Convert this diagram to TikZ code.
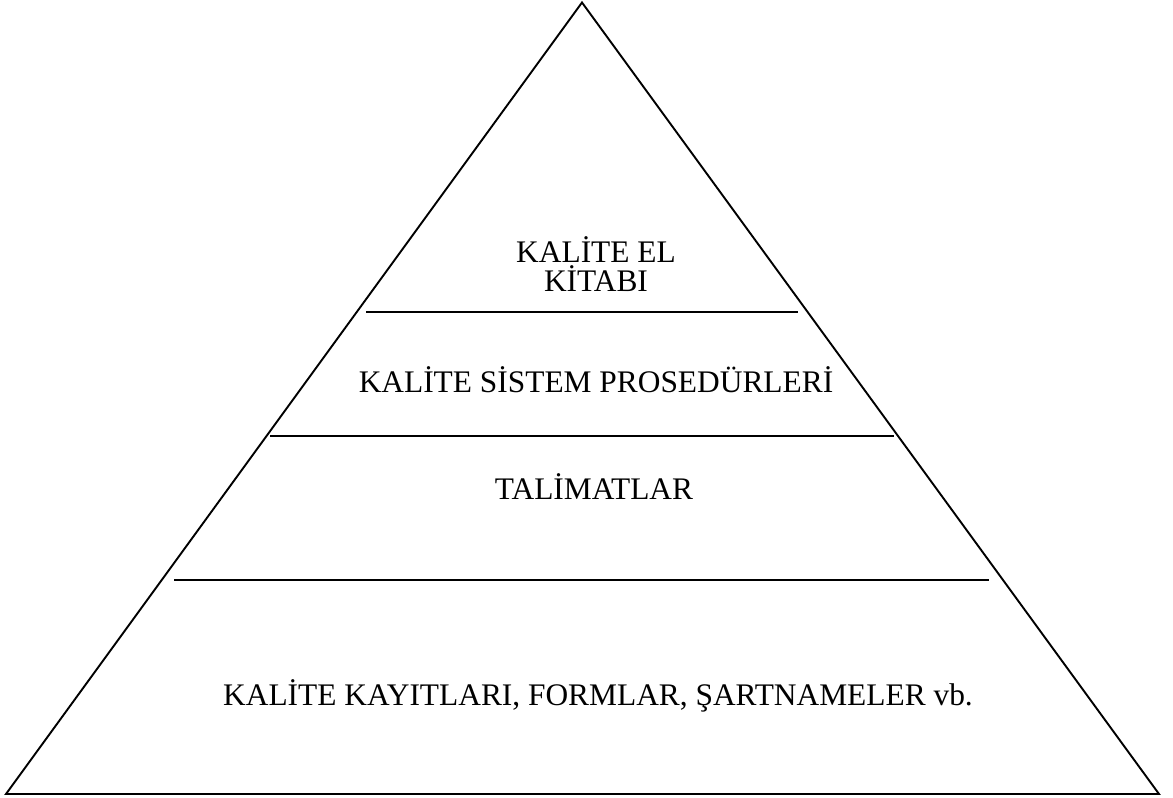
\documentclass[tikz,border=0pt]{standalone}
\usepackage{fontspec}
\setmainfont{Liberation Serif}
\begin{document}
\begin{tikzpicture}[x=1pt,y=-1pt,
  outline/.style={draw=black,line width=1.9pt,line join=miter},
  divider/.style={draw=black,line width=2pt},
  layer/.style={font=\fontsize{31.4}{29.4}\selectfont,align=center,inner sep=0pt,anchor=base}]
\useasboundingbox (0,0) rectangle (1173,798);
% pyramid outline
\coordinate (apex) at (582,2.5);
\coordinate (bl) at (6,794);
\coordinate (br) at (1159,794);
\draw[outline] (apex) -- (bl) -- (br) -- cycle;
% dividing lines
\coordinate (d1l) at (366,312); \coordinate (d1r) at (798,312);
\coordinate (d2l) at (270,436); \coordinate (d2r) at (894,436);
\coordinate (d3l) at (174,580); \coordinate (d3r) at (989,580);
\draw[divider] (d1l) -- (d1r);
\draw[divider] (d2l) -- (d2r);
\draw[divider] (d3l) -- (d3r);
% layer labels (base anchor sits on the last line's baseline)
\node[layer] (manual) at (596,291.5) {KALİTE EL\\KİTABI};
\node[layer] (proc) at (596,392) {KALİTE SİSTEM PROSEDÜRLERİ};
\node[layer] (instr) at (594,499) {TALİMATLAR};
\node[layer] (records) at (598,705.5) {KALİTE KAYITLARI, FORMLAR, ŞARTNAMELER vb.};
\end{tikzpicture}
\end{document}
